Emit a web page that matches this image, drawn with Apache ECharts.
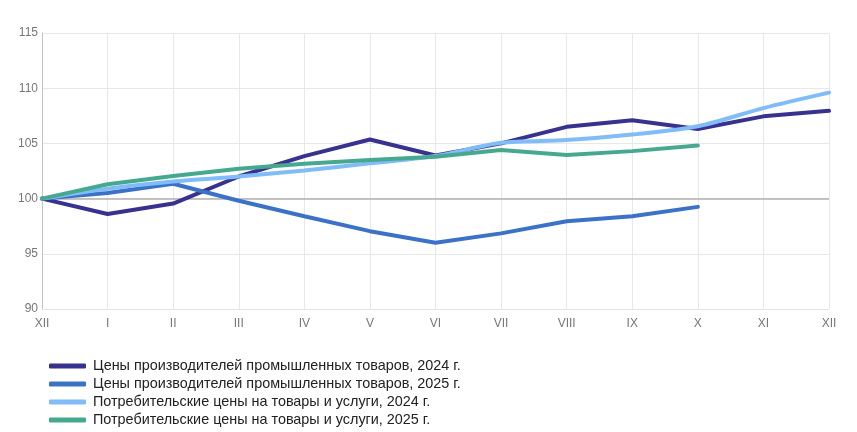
<!DOCTYPE html>
<html>
<head>
<meta charset="utf-8">
<script src="https://cdn.jsdelivr.net/npm/echarts@6/dist/echarts.min.js"></script>
<style>
  html, body { margin: 0; padding: 0; background: #fff; }
  #chart { width: 857px; height: 432px; }
</style>
</head>
<body>
<div id="chart"></div>
<script>
var months = ['XII', 'I', 'II', 'III', 'IV', 'V', 'VI', 'VII', 'VIII', 'IX', 'X', 'XI', 'XII'];

var ppi2024 = [100, 98.6, 99.55, 102.0, 103.85, 105.35, 103.9, 105.0, 106.5, 107.1, 106.3, 107.45, 107.95];
var ppi2025 = [100, 100.5, 101.35, 99.8, 98.4, 97.05, 96.0, 96.85, 97.95, 98.4, 99.25];
var cpi2024 = [100, 100.9, 101.55, 102.0, 102.55, 103.2, 103.85, 105.05, 105.3, 105.8, 106.55, 108.2, 109.6];
var cpi2025 = [100, 101.3, 102.05, 102.7, 103.15, 103.5, 103.8, 104.4, 103.95, 104.3, 104.8];

var names = [
    'Цены производителей промышленных товаров, 2024 г.',
    'Цены производителей промышленных товаров, 2025 г.',
    'Потребительские цены на товары и услуги, 2024 г.',
    'Потребительские цены на товары и услуги, 2025 г.'
];
var colors = ['#37318f', '#3b72c8', '#7fbcf8', '#46a98f'];

var myChart = echarts.init(document.getElementById('chart'));

function lineSeries(i, data, smooth) {
    return {
        name: names[i],
        type: 'line',
        data: data,
        symbol: 'none',
        smooth: smooth,
        lineStyle: { width: 4, color: colors[i], cap: 'round' },
        itemStyle: { color: colors[i] },
        z: 3 + i
    };
}

var series = [
    lineSeries(0, ppi2024, false),
    lineSeries(1, ppi2025, false),
    lineSeries(2, cpi2024, 0.3),
    lineSeries(3, cpi2025, false)
];
// baseline at 100
series[0].markLine = {
    silent: true,
    symbol: 'none',
    label: { show: false },
    lineStyle: { color: '#b0b0b0', type: 'solid', width: 1.5 },
    data: [{ yAxis: 100 }],
    z: 1
};

var option = {
    animation: false,
    textStyle: { fontFamily: 'Liberation Sans, Arial, sans-serif' },
    grid: { left: 42, right: 28, top: 33, bottom: 123 },
    legend: {
        orient: 'vertical',
        left: 44,
        top: 354,
        height: 90,
        itemWidth: 37,
        itemHeight: 5,
        itemGap: 4,
        icon: 'roundRect',
        textStyle: {
            fontSize: 14.4, lineHeight: 14, color: '#222',
            padding: [0, 0, 0, 2],
            fontFamily: 'Liberation Sans, Arial, sans-serif'
        },
        data: names
    },
    xAxis: {
        type: 'category',
        data: months,
        boundaryGap: false,
        axisLine: { lineStyle: { color: '#e4e4e4' } },
        axisTick: { show: false },
        axisLabel: { color: '#777', fontSize: 12, margin: 9, interval: 0 },
        splitLine: { show: true, lineStyle: { color: '#e8e8e8' } }
    },
    yAxis: {
        type: 'value',
        min: 90,
        max: 115,
        interval: 5,
        axisLine: { show: true, lineStyle: { color: '#c4c4c4' } },
        axisTick: { show: false },
        axisLabel: { color: '#777', fontSize: 12, margin: 4 },
        splitLine: { lineStyle: { color: '#e8e8e8' } }
    },
    series: series
};

myChart.setOption(option);
</script>
</body>
</html>
